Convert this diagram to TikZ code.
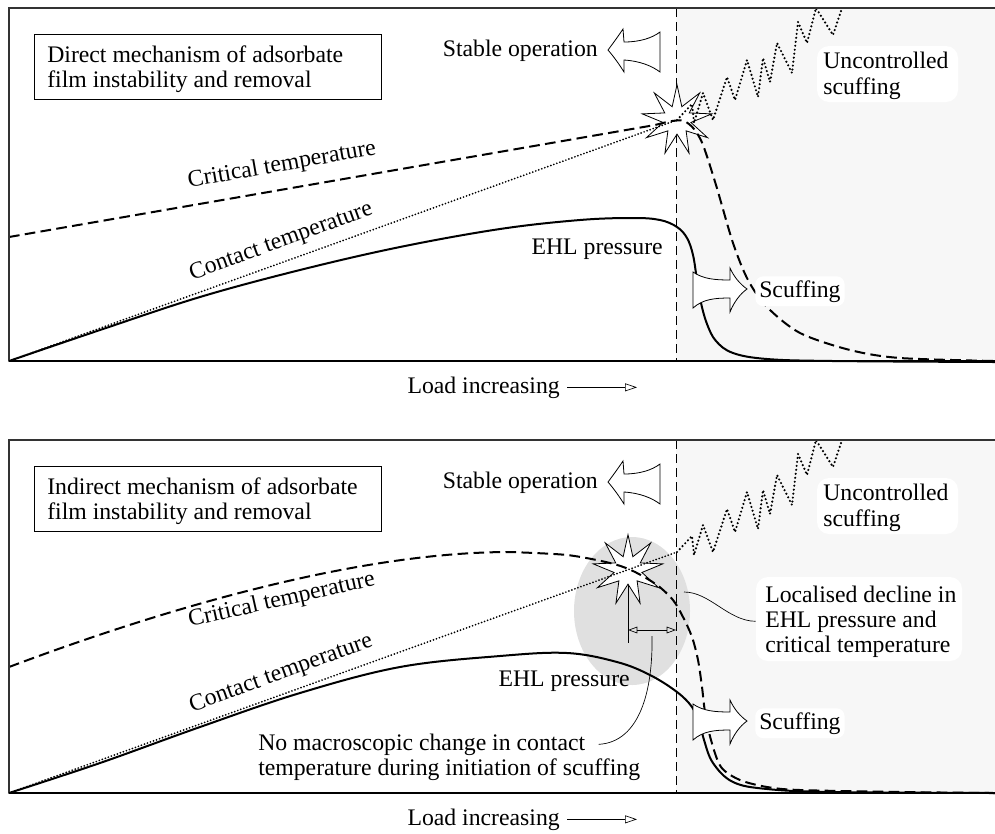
\documentclass[tikz,border=0pt]{standalone}
\usepackage{fontspec}
\setmainfont{Liberation Serif}
\usetikzlibrary{shapes.geometric,arrows.meta}
\begin{document}
\begin{tikzpicture}[x=0.75pt,y=-0.75pt,
  txt/.style={font=\fontsize{17.8}{21}\selectfont, inner sep=0pt},
  halo/.style={fill=white, inner sep=3pt, rounded corners=6pt},
  haloback/.style={fill=white, rounded corners=9pt},
  shadebg/.style={fill=black!3},
  frameline/.style={line width=0.8pt, draw=black!80},
  vdash/.style={line width=0.7pt, dash pattern=on 7pt off 3.5pt},
  ehl/.style={line width=1.5pt},
  crit/.style={line width=1.5pt, dash pattern=on 8pt off 4pt},
  cont/.style={line width=1.45pt, dash pattern=on 0pt off 2.4pt, line cap=round},
  zig/.style={line width=1.8pt, dash pattern=on 0pt off 3pt, line cap=round},
  bigarrow/.style={draw, line width=0.6pt, fill=white, line join=miter},
  burst/.style={star, star points=9, star point ratio=2.5, draw, line width=0.6pt, fill=white, minimum size=53pt, inner sep=0pt},
  thinline/.style={line width=0.5pt},
  opentip/.style={-{Triangle[open, length=9pt, width=6pt]}},
  boxline/.style={line width=0.6pt},
]
\useasboundingbox (0,0) rectangle (995,833);

% ================= TOP PANEL =================
\fill[shadebg] (676,8) rectangle (995,361);
\draw[vdash] (676,8) -- (676,361);
\node[burst] (starA) at (677,120) {};

\draw[crit] (9,237) -- plot[smooth] coordinates {(655,125) (672,121) (684,121) (694,129) (703,145) (716,185) (733,243) (748,280) (767,307) (800,333) (850,350) (900,358) (995,361)};
\draw[ehl] plot[smooth, tension=0.6] coordinates {(9,361) (100,330) (200,297) (300,270) (400,247) (500,229) (580,220) (633,218) (660,220) (677,227) (687,238) (693,255) (697,280) (701,303) (707,324) (716,341) (733,353) (767,359) (833,361) (995,362)};
\draw[cont] (9,361) -- (starA.center);

% ================= BOTTOM PANEL (curves) =================
\fill[shadebg] (676,440) rectangle (995,793);
\fill[black!12] (632,611) ellipse [x radius=58, y radius=74];
\draw[vdash] (676,440) -- (676,793);
\coordinate (vbot) at (628,643);
\draw[thinline] (628,575) -- (vbot);
\node[burst] (starB) at (628,570) {};
\coordinate (arrL) at (628,630);
\coordinate (arrR) at (676,630);
\draw[thinline, {Triangle[open, length=7pt, width=5pt]}-{Triangle[open, length=7pt, width=5pt]}] (arrL) -- (arrR);

\draw[crit] (9,667) .. controls (150,614) and (350,552) .. (510,552) -- plot[smooth] coordinates {(510,552) (567,555) (610,563) (633,571) (657,585) (673,600) (683,617) (692,637) (698,660) (702,687) (705,712) (711,740) (721,767) (740,780) (767,787) (800,790) (900,792) (995,793)};
\draw[ehl] plot[smooth, tension=0.6] coordinates {(9,793) (100,763) (200,727) (300,693) (400,667) (500,656) (567,653) (617,662) (650,675) (677,692) (692,707) (700,724) (704,740) (713,763) (733,782) (767,789) (833,792) (995,793)};
\coordinate (contBend) at (677,552);
\draw[cont] (9,793) -- (contBend);

% ================= repeated items =================
\foreach \dy/\nm in {0/A, 432/B}{
\begin{scope}[shift={(0,\dy)}]
  \draw[zig] (677,120) -- (692,104) -- (694,123) -- (703,93) -- (713,120) -- (727,77) -- (735,100) -- (747,60) -- (758,97) -- (763,58) -- (770,82) -- (777,43) -- (792,73) -- (798,22) -- (807,43) -- (816,8) -- (833,35) -- (842,8);
  \draw[bigarrow] (608,50) .. controls (614,42) and (619,35) .. (623,29) -- (624,42) .. controls (640,42) and (652,38) .. (660,32) -- (660,72) .. controls (652,66) and (640,61) .. (624,60) -- (624,72) .. controls (619,64) and (614,57) .. (608,50) -- cycle;
  \draw[bigarrow] (693,272) .. controls (703,279) and (715,280) .. (730,280) -- (730,268) .. controls (734,277) and (740,284) .. (747,289) .. controls (740,294) and (734,302) .. (730,312) -- (730,298) .. controls (715,298) and (703,299) .. (693,308) -- cycle;
  \draw[boxline] (34,34) rectangle (381,99);
  \node[txt, anchor=base east] (stable\nm) at (598,56) {Stable operation};
  \fill[haloback] (817,46) rectangle (958,102);
  \node[txt, anchor=base west] (unc\nm1) at (823,68) {Uncontrolled};
  \node[txt, anchor=base west] (unc\nm2) at (823,94) {scuffing};
  \node[txt, halo, anchor=base west] (scuf\nm) at (755,297) {Scuffing};
  \node[txt, anchor=base east] (load\nm) at (560,393) {Load increasing};
  \coordinate (load\nm tip) at (637,388);
  \draw[thinline, opentip] ([xshift=5.25pt]load\nm.east) -- (load\nm.east -| load\nm tip);
  \draw[frameline] (995,8) -- (9,8) -- (9,361);
  \draw[line width=0.8pt] (9,361) -- (995,361);
\end{scope}
}

% ================= TOP PANEL texts =================
\node[txt, anchor=base west] (titleA1) at (47,62) {Direct mechanism of adsorbate};
\node[txt, anchor=base west] (titleA2) at (47,87) {film instability and removal};
\node[txt, anchor=base east] (ehlA) at (663,254) {EHL pressure};
\node[txt, rotate=9.9, anchor=base] (critA) at (283,171) {Critical temperature};
\node[txt, rotate=20, anchor=base] (contA) at (283,247) {Contact temperature};

% ================= BOTTOM PANEL texts =================
\node[txt, anchor=base west] (titleB1) at (47,494) {Indirect mechanism of adsorbate};
\node[txt, anchor=base west] (titleB2) at (47,519) {film instability and removal};
\node[txt, anchor=base east] (ehlB) at (630,686) {EHL pressure};
\node[txt, rotate=12.7, anchor=base] (critB) at (283,606) {Critical temperature};
\node[txt, rotate=20, anchor=base] (contB) at (283,679) {Contact temperature};
\node[txt, anchor=base west] (nomac1) at (258,750) {No macroscopic change in contact};
\node[txt, anchor=base west] (nomac2) at (258,775) {temperature during initiation of scuffing};
\fill[haloback] (756,577) rectangle (962,661);
\node[txt, anchor=base west] (loc1) at (765,602) {Localised decline in};
\node[txt, anchor=base west] (loc2) at (765,627) {EHL pressure and};
\node[txt, anchor=base west] (loc3) at (765,652) {critical temperature};

\coordinate (calloutA) at (652,636);
\draw[thinline] (calloutA) .. controls (653,690) and (640,742) .. ([xshift=10pt]nomac1.east);
\coordinate (calloutB) at (684,592);
\draw[thinline] (calloutB) .. controls (710,592) and (728,621) .. ([xshift=-7pt]loc2.west);
\end{tikzpicture}
\end{document}
